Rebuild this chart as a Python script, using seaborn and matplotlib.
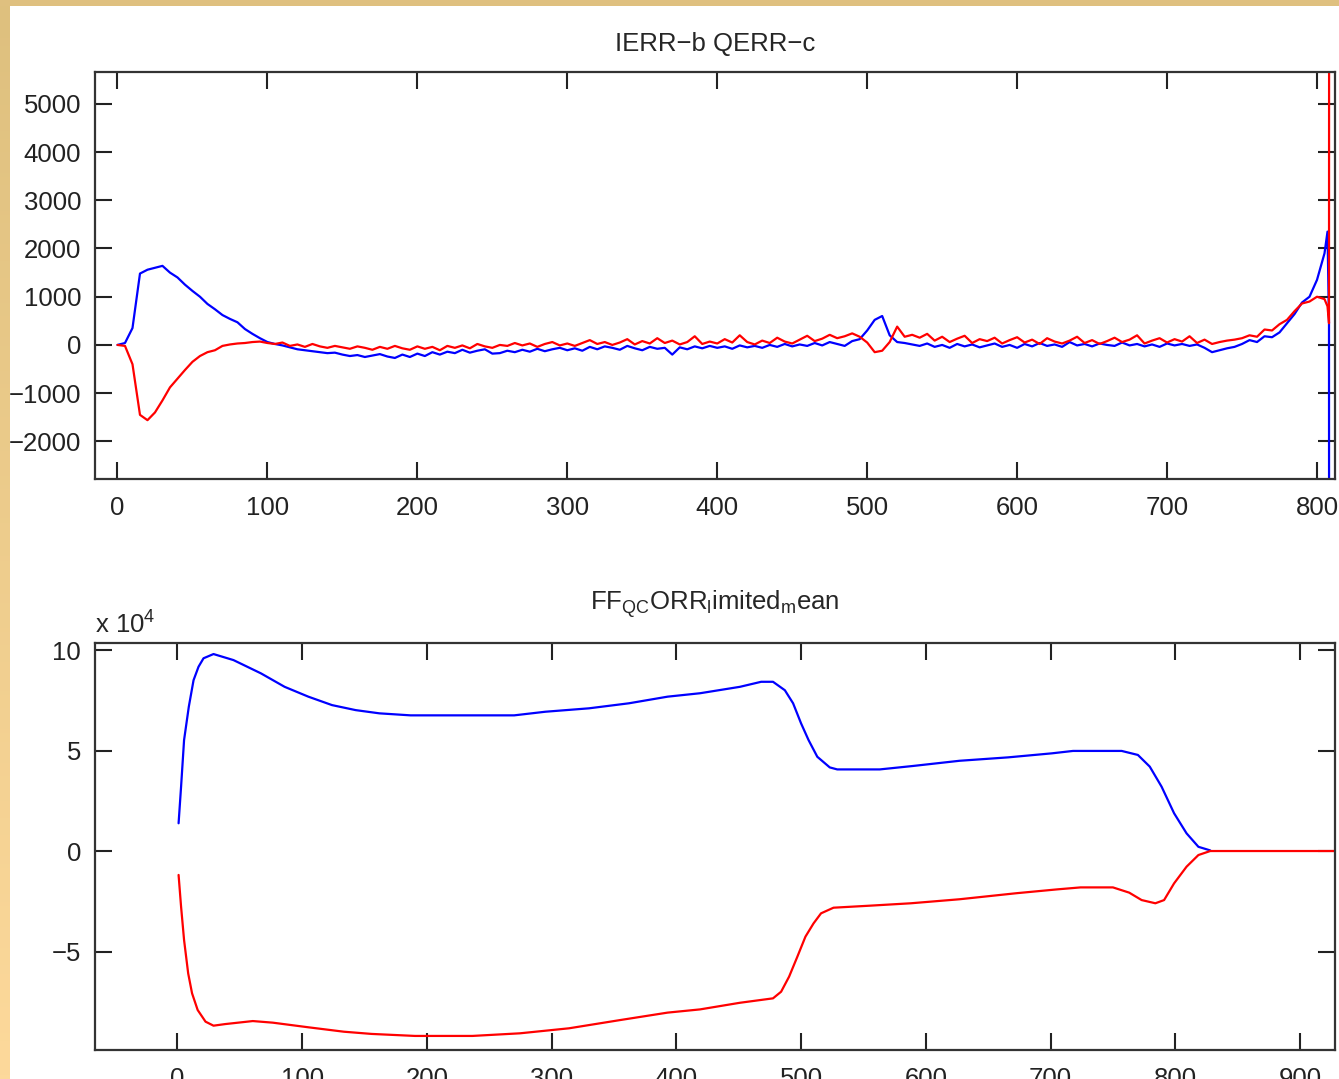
"""
Two-panel MATLAB-style trace plot: IERR/QERR errors and FF_QCORR limited mean.
"""
import numpy as np
import matplotlib
matplotlib.use("Agg")
import matplotlib.pyplot as plt
import seaborn as sns

# ---- top panel: IERR (blue) and QERR (red), one value every 5 samples ----
err_x = list(range(0, 806, 5)) + [807, 808, 809]
ierr = [
    0, 40, 350, 1480, 1560, 1600, 1640, 1500, 1400, 1250,
    1120, 1000, 850, 740, 620, 540, 470, 330, 230, 140,
    60, 20, -10, -50, -90, -110, -130, -150, -170, -160,
    -200, -230, -210, -250, -220, -190, -240, -270, -200, -250,
    -180, -230, -150, -200, -140, -170, -100, -160, -120, -90,
    -180, -170, -120, -150, -100, -140, -80, -130, -90, -60,
    -110, -70, -120, -40, -90, -30, -60, -100, -20, -70,
    -110, -40, -80, -60, -200, -50, -90, -30, -70, -20,
    -60, -30, -80, -10, -50, -20, -60, 0, -40, 20,
    -30, 10, -20, 40, -10, 60, 20, -20, 80, 120,
    300, 520, 600, 200, 60, 40, 10, -20, 30, -40,
    0, -60, 20, -30, 10, -50, -10, 30, -40, 0,
    -60, 20, -30, 40, -20, 10, -40, 60, -10, 20,
    -30, 30, 0, -20, 50, -10, 20, -30, 10, -40,
    30, -10, 20, -20, 10, -60, -150, -110, -70, -40,
    20, 100, 60, 180, 160, 260, 450, 640, 880, 1000,
    1350, 1900, 2350, 450, -100000,
]
qerr = [
    0, -20, -400, -1450, -1560, -1400, -1150, -880, -700, -520,
    -350, -230, -150, -110, -20, 10, 30, 40, 60, 70,
    40, 20, 50, -20, 10, -40, 20, -30, -60, -20,
    -50, -80, -30, -60, -100, -40, -80, -20, -70, -100,
    -30, -80, -40, -110, -20, -60, -10, -70, 20, -30,
    -60, 0, -20, 40, -10, 30, -40, 20, 60, -10,
    30, -20, 40, 100, 20, 60, 0, 50, 120, 10,
    80, 30, 140, 40, 90, 10, 60, 180, 20, 70,
    30, 120, 50, 200, 60, 10, 90, 40, 150, 70,
    30, 110, 190, 80, 130, 210, 140, 180, 240, 170,
    50, -150, -120, 60, 380, 170, 210, 150, 230, 90,
    170, 60, 130, 190, 40, 120, 80, 150, 30, 100,
    160, 50, 110, 20, 140, 70, 30, 90, 170, 40,
    100, 20, 80, 150, 60, 110, 200, 30, 90, 140,
    50, 120, 70, 180, 40, 110, 20, 60, 90, 110,
    140, 200, 170, 320, 300, 430, 520, 700, 860, 900,
    1000, 950, 800, 450, 100000,
]

# ---- bottom panel: FF_QCORR limited mean, values in units of 1e4 ----
ff_blue_x = [1, 3, 5.4, 9.2, 13, 17, 21, 29, 45, 67, 86, 105, 124, 143, 162, 187,
             270, 295, 330, 362, 393, 419, 451, 468, 477.5, 487, 493.6, 500, 506,
             513, 523, 529, 563, 589.5, 627, 666, 701, 718, 757, 770, 779.5, 789,
             799, 809, 818.5, 828]
ff_blue = [1.38, 3.2, 5.52, 7.18, 8.5, 9.17, 9.59, 9.8, 9.5, 8.84, 8.17, 7.68, 7.26,
           7.01, 6.85, 6.75, 6.75, 6.93, 7.1, 7.35, 7.68, 7.85, 8.17, 8.42, 8.42, 8.0,
           7.35, 6.35, 5.52, 4.69, 4.16, 4.06, 4.06, 4.23, 4.49, 4.66, 4.86, 4.98,
           4.98, 4.78, 4.2, 3.2, 1.88, 0.88, 0.21, 0.03]
ff_red_x = [1, 3, 5.4, 8.7, 11.8, 16.3, 22.6, 29, 38.4, 60.5, 76.5, 105, 133.5,
            155.7, 190.5, 236.5, 274.6, 314, 355, 393, 419, 451, 477.5, 484, 490.4,
            497, 503.5, 510, 516, 526, 555, 588, 627, 672.5, 705, 724, 750, 763, 773,
            784, 791, 799, 809, 818.5, 828, 940]
ff_red = [-1.19, -2.77, -4.43, -6.09, -7.08, -7.91, -8.49, -8.69, -8.61, -8.46, -8.54,
          -8.77, -8.99, -9.1, -9.2, -9.2, -9.07, -8.82, -8.41, -8.04, -7.88, -7.55,
          -7.33, -7.0, -6.25, -5.26, -4.26, -3.6, -3.1, -2.82, -2.72, -2.6, -2.4,
          -2.1, -1.91, -1.81, -1.81, -2.07, -2.44, -2.6, -2.44, -1.61, -0.78, -0.2,
          0.0, 0.0]

sns.set_style("ticks")
plt.rcParams["font.family"] = ["Liberation Sans", "DejaVu Sans"]
plt.rcParams["mathtext.fontset"] = "custom"
plt.rcParams["mathtext.rm"] = "Liberation Sans"
plt.rcParams["mathtext.it"] = "Liberation Sans"
FS = 18.5

fig = plt.figure(figsize=(13.39, 10.79), dpi=100, facecolor="white")

# tan frame on the left (gradient) and top
strip = fig.add_axes([0, 0, 10 / 1339, 1])
grad = np.linspace(0, 1, 256).reshape(-1, 1)
cmap = matplotlib.colors.LinearSegmentedColormap.from_list("frame", ["#dec07e", "#fdd99b"])
strip.imshow(grad, aspect="auto", cmap=cmap, extent=[0, 1, 0, 1], origin="upper")
strip.axis("off")
top_strip = fig.add_axes([0, 1 - 6 / 1079, 1, 6 / 1079])
top_strip.set_facecolor("#dfc07f")
top_strip.set_xticks([])
top_strip.set_yticks([])
for s in top_strip.spines.values():
    s.set_visible(False)


def style_axes(ax):
    ax.tick_params(direction="in", top=True, right=True, length=12, width=1.5,
                   labelsize=FS, pad=10, colors="#222222")
    ax.tick_params(axis="x", pad=12)
    for s in ax.spines.values():
        s.set_linewidth(1.6)
        s.set_color("#333333")
        s.set_visible(True)


ax1 = fig.add_axes([95 / 1339, 1 - 479 / 1079, 1240 / 1339, 407 / 1079])
sns.lineplot(x=err_x, y=ierr, ax=ax1, color="#0000ff", lw=1.6, estimator=None, sort=False)
sns.lineplot(x=err_x, y=qerr, ax=ax1, color="#ff0000", lw=1.6, estimator=None, sort=False)
ax1.set_xlim(-15, 812)
ax1.set_ylim(-2780, 5660)
ax1.set_xticks(range(0, 801, 100))
ax1.set_yticks(range(-2000, 5001, 1000))
ax1.set_title("IERR\u2212b QERR\u2212c", fontsize=FS, pad=15)
style_axes(ax1)

ax2 = fig.add_axes([95 / 1339, 1 - 1050 / 1079, 1240 / 1339, 407 / 1079])
sns.lineplot(x=ff_blue_x, y=ff_blue, ax=ax2, color="#0000ff", lw=1.6, estimator=None, sort=False)
sns.lineplot(x=ff_red_x, y=ff_red, ax=ax2, color="#ff0000", lw=1.6, estimator=None, sort=False)
ax2.set_xlim(-66, 928)
ax2.set_ylim(-9.9, 10.35)
ax2.set_xticks(range(0, 901, 100))
ax2.set_yticks([-5, 0, 5, 10])
ax2.set_title(r"FF$_{\rm QC}$ORR$_{\rm l}$imited$_{\rm m}$ean", fontsize=FS, pad=24)
ax2.text(0.0, 1.012, r"x 10$^{4}$", transform=ax2.transAxes, fontsize=FS,
         ha="left", va="bottom")
style_axes(ax2)

fig.savefig("out.png", dpi=100, facecolor="white")
